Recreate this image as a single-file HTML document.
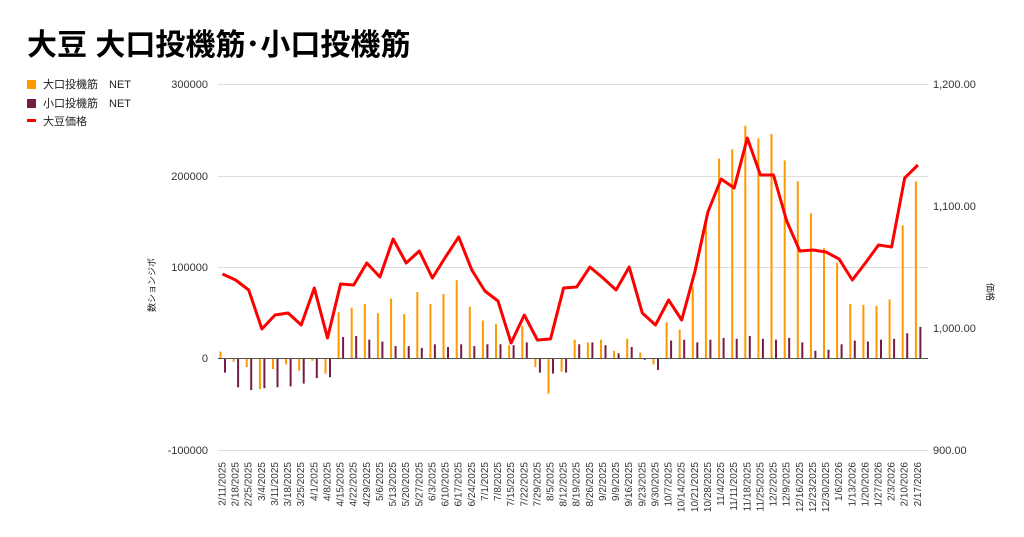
<!DOCTYPE html>
<html><head><meta charset="utf-8"><style>
body{margin:0;background:#fff;width:1024px;height:532px;overflow:hidden;font-family:"Liberation Sans","Noto Sans CJK JP",sans-serif}
</style></head><body>
<svg id="s" width="1024" height="532" xmlns="http://www.w3.org/2000/svg" font-family="Liberation Sans, Noto Sans CJK JP, sans-serif">
<text x="27" y="55" font-size="30" font-weight="bold" fill="#000">大豆 大口投機筋･小口投機筋</text>
<rect x="27" y="80" width="9" height="9" fill="#ff9900"/>
<text x="43" y="88" font-size="11" fill="#222">大口投機筋　NET</text>
<rect x="27" y="99" width="9" height="9" fill="#741b47"/>
<text x="43" y="107" font-size="11" fill="#222">小口投機筋　NET</text>
<rect x="27" y="119" width="9" height="3" fill="#ff0000"/>
<text x="43" y="125" font-size="11" fill="#222">大豆価格</text>
<g stroke="#ddd" stroke-width="1">
<line x1="218" x2="928" y1="84.5" y2="84.5"/>
<line x1="218" x2="928" y1="176.5" y2="176.5"/>
<line x1="218" x2="928" y1="267.5" y2="267.5"/>
<line x1="218" x2="928" y1="450.5" y2="450.5"/>
</g>
<g font-size="11" fill="#333" text-anchor="end">
<text x="208" y="88">300000</text>
<text x="208" y="180">200000</text>
<text x="208" y="271">100000</text>
<text x="208" y="362">0</text>
<text x="208" y="454">-100000</text>
</g>
<g font-size="11" fill="#333">
<text x="933" y="88">1,200.00</text>
<text x="933" y="210">1,100.00</text>
<text x="933" y="332">1,000.00</text>
<text x="933" y="454">900.00</text>
</g>
<text font-size="9" fill="#222" transform="translate(155,285) rotate(-90)" text-anchor="middle">数ションジポ</text>
<text font-size="9" fill="#222" transform="translate(987,292) rotate(90)" text-anchor="middle">価格</text>
<g id="bars"></g>
<line x1="218" x2="928" y1="358.5" y2="358.5" stroke="#555" stroke-width="1"/>
<g id="line"></g>
<g id="lab" font-size="10" fill="#333"></g>
</svg>
<script>
var big=[7000,-4000,-10000,-34000,-12000,-7000,-14000,-3000,-17000,50000,55000,59000,49000,65000,48000,72000,59000,70000,85000,56000,41000,37000,14000,35000,-10000,-39000,-15000,20000,17000,20000,8000,21000,6000,-7000,39000,31000,78000,148000,218000,228000,254000,240000,245000,216000,193000,158000,120000,104000,59000,58000,57000,64000,145000,193000];
var sm=[-16000,-32000,-35000,-33000,-32000,-31000,-28000,-22000,-21000,23000,24000,20000,18000,13000,13000,11000,15000,12000,15000,13000,15000,15000,14000,17000,-16000,-17000,-16000,15000,17000,14000,5000,12000,-2000,-13000,19000,20000,17000,20000,22000,21000,24000,21000,20000,22000,17000,8000,9000,15000,19000,18000,20000,21000,27000,34000];
var py=[274,280,290,329,315,313,325,288,338,284,285,263,277,239,263,251,278,257,237,270,291,301,343,315,340,339,288,287,267,278,290,267,313,325,300,320,272,212,179,188,138,175,175,221,251,250,252,259,280,263,245,247,178,165];
var d=new Date(2025,1,11),labs=[];
for(var i=0;i<54;i++){labs.push((d.getMonth()+1)+"/"+d.getDate()+"/"+d.getFullYear());d.setDate(d.getDate()+7);}
var S=13.12,b="",t="",pts=[];
function Y(v){return 358-v*91.5/100000;}
for(var i=0;i<54;i++){
 var x=219.5+i*S;
 var y1=Y(big[i]);b+='<rect x="'+x.toFixed(1)+'" y="'+Math.min(y1,358).toFixed(1)+'" width="2" height="'+Math.abs(358-y1).toFixed(1)+'" fill="#ff9900"/>';
 var y2=Y(sm[i]);b+='<rect x="'+(x+4.5).toFixed(1)+'" y="'+Math.min(y2,358).toFixed(1)+'" width="2" height="'+Math.abs(358-y2).toFixed(1)+'" fill="#741b47"/>';
 pts.push((222.5+i*S).toFixed(1)+","+py[i]);
 var lx=(225.5+i*S).toFixed(1);
 t+='<text transform="translate('+lx+',462) rotate(-90)" text-anchor="end">'+labs[i]+'</text>';
}
document.getElementById("bars").innerHTML=b;
document.getElementById("line").innerHTML='<polyline points="'+pts.join(" ")+'" fill="none" stroke="#ff0000" stroke-width="3" stroke-linejoin="round"/>';
document.getElementById("lab").innerHTML=t;
</script>
</body></html>
